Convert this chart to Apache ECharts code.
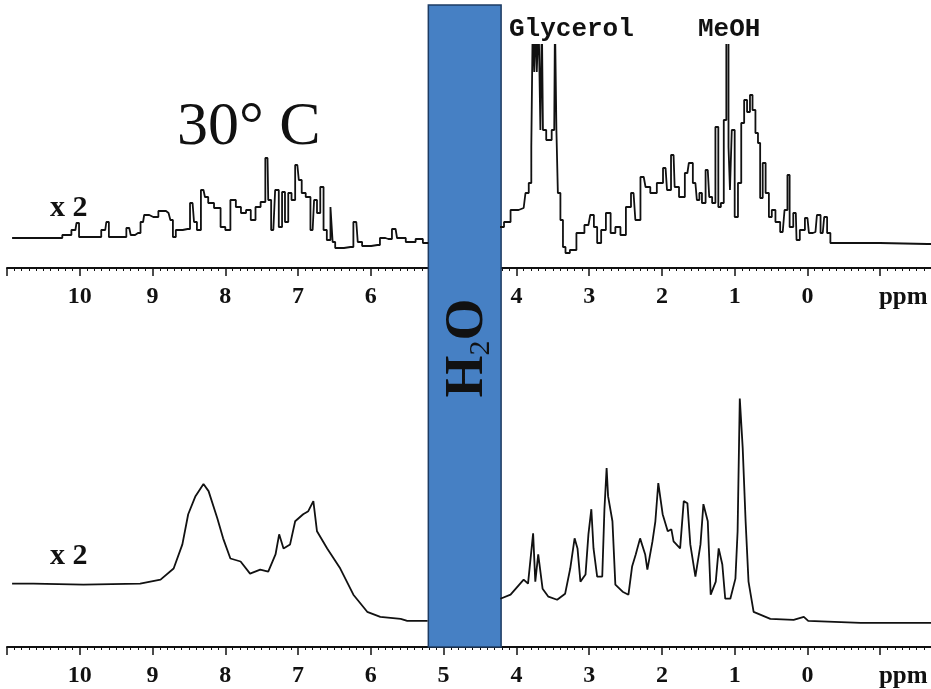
<!DOCTYPE html>
<html>
<head>
<meta charset="utf-8">
<script src="https://cdn.jsdelivr.net/npm/echarts@6/dist/echarts.min.js"></script>
<style>
  html, body { margin: 0; padding: 0; background: #fff; }
  #main { width: 931px; height: 689px; }
</style>
</head>
<body>
<div id="main"></div>
<script>
// axis ticks (ppm)
var axisMin = -2, axisMax = 11;
// water band (ppm)
var waterFrom = 5.21, waterTo = 4.21;

// 30 C spectrum: chemical shift (ppm) and intensity (null = suppressed water region)
var topPpm = [10.93, 10.31, 10.17, 10.06, 10.03, 9.99, 9.76, 9.65, 9.62, 9.58, 9.40, 9.32, 9.28, 9.20, 9.13, 9.10, 8.99, 8.85, 8.78, 8.73,
  8.71, 8.65, 8.52, 8.45, 8.41, 8.37, 8.30, 8.26, 8.21, 8.10, 8.03, 7.97, 7.89, 7.82, 7.75, 7.68, 7.62, 7.55, 7.48, 7.42,
  7.40, 7.34, 7.29, 7.24, 7.20, 7.16, 7.11, 7.07, 7.01, 6.97, 6.93, 6.86, 6.80, 6.76, 6.72, 6.67, 6.63, 6.58, 6.53, 6.52,
  6.46, 6.28, 6.20, 6.16, 6.08, 5.91, 5.84, 5.76, 5.66, 5.62, 5.42, 5.35, 5.22, 5.20, 4.23,
  4.22, 4.12, 4.04, 3.90, 3.85, 3.81, 3.78, 3.77, 3.74, 3.73, 3.71, 3.68, 3.66, 3.64, 3.63, 3.55, 3.48, 3.46, 3.44, 3.42,
  3.37, 3.35, 3.30, 3.23, 3.12, 3.01, 2.96, 2.91, 2.87, 2.80, 2.74, 2.67, 2.61, 2.53, 2.46, 2.39, 2.34, 2.25, 2.20, 2.12,
  2.02, 1.95, 1.91, 1.84, 1.81, 1.72, 1.65, 1.61, 1.54, 1.50, 1.47, 1.43, 1.37, 1.33, 1.29, 1.24, 1.21, 1.17, 1.13, 1.10,
  1.07, 1.06, 1.02, 0.98, 0.93, 0.89, 0.85, 0.81, 0.77, 0.74, 0.69, 0.67, 0.63, 0.60, 0.55, 0.51, 0.47, 0.41, 0.34, 0.29,
  0.26, 0.23, 0.16, 0.14, 0.07, 0.00, -0.04, -0.11, -0.15, -0.21, -0.25, -0.29, -0.34, -1.65, -2.00];
var topVal = [30, 30, 33, 38, 45, 31, 31, 38, 46, 31, 31, 40, 33, 35, 46, 53, 51, 57, 55, 48,
  31, 38, 39, 65, 46, 38, 78, 71, 65, 60, 41, 38, 68, 61, 55, 58, 48, 61, 66, 110,
  68, 38, 78, 41, 76, 46, 75, 68, 103, 88, 75, 71, 38, 68, 55, 81, 38, 28, 61, 26,
  20, 21, 46, 26, 22, 23, 30, 29, 39, 30, 26, 29, 25, null, null,
  41, 46, 58, 60, 75, 85, 121, 250, 196, 250, 196, 250, 138, 250, 138, 128, 138, 250, 138, 75,
  48, 21, 15, 18, 35, 43, 53, 41, 25, 38, 55, 35, 41, 33, 61, 75, 48, 91, 81, 75,
  85, 100, 78, 113, 81, 71, 95, 105, 85, 68, 75, 65, 98, 71, 65, 141, 61, 65, 148, 250,
  121, 78, 138, 51, 85, 145, 168, 156, 173, 158, 135, 125, 70, 105, 75, 51, 58, 46, 36, 58,
  93, 41, 55, 28, 38, 50, 35, 36, 53, 35, 51, 35, 25, 24, 24];

// second spectrum
var botPpm = [10.93, 10.64, 9.95, 9.17, 8.89, 8.71, 8.59, 8.51, 8.41, 8.30, 8.23, 8.11, 8.03, 7.93, 7.79, 7.66, 7.52, 7.41, 7.31, 7.26,
  7.20, 7.11, 7.04, 6.93, 6.86, 6.79, 6.74, 6.60, 6.42, 6.24, 6.05, 5.87, 5.59, 5.50, 5.22, 4.70,
  4.22, 4.08, 3.90, 3.84, 3.77, 3.74, 3.70, 3.64, 3.56, 3.44, 3.33, 3.26, 3.20, 3.16, 3.12, 3.05, 3.01, 2.97, 2.94, 2.89,
  2.82, 2.79, 2.76, 2.74, 2.68, 2.64, 2.54, 2.46, 2.41, 2.36, 2.30, 2.23, 2.20, 2.13, 2.09, 2.05, 1.99, 1.92, 1.87, 1.84,
  1.75, 1.70, 1.65, 1.61, 1.54, 1.47, 1.43, 1.37, 1.33, 1.26, 1.22, 1.17, 1.13, 1.06, 0.99, 0.96, 0.93, 0.89, 0.85, 0.81,
  0.74, 0.51, 0.19, 0.05, -0.01, -0.73, -1.65, -2.00];
var botVal = [63, 63, 62, 63, 67, 78, 102, 132, 150, 162, 155, 128, 108, 88, 85, 73, 77, 75, 92, 112,
  98, 102, 125, 132, 135, 145, 115, 98, 78, 52, 35, 30, 28, 26, 26, null,
  48, 52, 67, 63, 113, 65, 92, 58, 50, 47, 53, 78, 108, 98, 65, 72, 112, 137, 98, 70,
  70, 137, 178, 150, 125, 62, 55, 52, 80, 92, 108, 92, 77, 105, 125, 163, 132, 115, 117, 105,
  98, 145, 143, 102, 70, 102, 142, 125, 52, 65, 98, 82, 48, 48, 68, 115, 247, 198, 125, 65,
  35, 28, 27, 30, 26, 24, 24, 24];

function pairs(xs, ys) {
  var out = [];
  for (var i = 0; i < xs.length; i++) out.push([xs[i], ys[i] === null ? '-' : ys[i]]);
  return out;
}

var labelFont = '"Liberation Serif", "DejaVu Serif", serif';

function ppmAxis(grid) {
  return {
    type: 'value', gridIndex: grid, inverse: true,
    min: axisMin, max: axisMax, interval: 1,
    axisLine: { lineStyle: { color: '#111', width: 2 } },
    axisTick: { length: 8, lineStyle: { color: '#111', width: 1.5 } },
    minorTick: { show: true, splitNumber: 10, length: 3, lineStyle: { color: '#111', width: 1 } },
    splitLine: { show: false },
    minorSplitLine: { show: false },
    axisLabel: {
      margin: 17, color: '#111', fontFamily: labelFont, fontWeight: 'bold', fontSize: 24,
      formatter: function (v) {
        if (v === axisMax || v === axisMin) return '';
        if (v === -1) return '{p|ppm}';
        return String(v);
      },
      rich: { p: { fontFamily: labelFont, fontWeight: 'bold', fontSize: 25, color: '#111', padding: [0, 0, 0, 46] } }
    }
  };
}

var chart = echarts.init(document.getElementById('main'));
var option = {
  animation: false,
  backgroundColor: '#fff',
  grid: [
    { left: 7, width: 946, top: 45, bottom: 421, outerBoundsMode: 'none' },
    { left: 7, width: 946, top: 300, bottom: 42, outerBoundsMode: 'none' },
    { left: 7, width: 946, top: 5, bottom: 42, outerBoundsMode: 'none' }
  ],
  xAxis: [
    ppmAxis(0),
    ppmAxis(1),
    { type: 'value', gridIndex: 2, inverse: true, min: axisMin, max: axisMax, show: false }
  ],
  yAxis: [
    { type: 'value', gridIndex: 0, min: 0, max: 223, show: false },
    { type: 'value', gridIndex: 1, min: 0, max: 345, show: false },
    { type: 'value', gridIndex: 2, min: 0, max: 1, show: false }
  ],
  series: [
    {
      type: 'line', xAxisIndex: 0, yAxisIndex: 0, data: pairs(topPpm, topVal),
      step: 'middle', connectNulls: false, showSymbol: false, clip: true,
      lineStyle: { color: '#111', width: 1.8 }
    },
    {
      type: 'line', xAxisIndex: 1, yAxisIndex: 1, data: pairs(botPpm, botVal),
      connectNulls: false, showSymbol: false, clip: true,
      lineStyle: { color: '#111', width: 1.8 }
    },
    {
      type: 'line', xAxisIndex: 2, yAxisIndex: 2, data: [], z: 10,
      markArea: {
        silent: true,
        itemStyle: { color: '#4680c4', borderColor: '#1d3b63', borderWidth: 1.5, opacity: 1 },
        data: [[{ xAxis: waterFrom }, { xAxis: waterTo }]]
      }
    }
  ],
  graphic: [
    { type: 'text', z: 100, x: 177, y: 159, style: { text: '30\u00b0 C', font: '62px "Liberation Serif"', fill: '#111', textVerticalAlign: 'bottom' } },
    { type: 'text', z: 100, x: 50, y: 223, style: { text: 'x 2', font: 'bold 30px "Liberation Serif"', fill: '#111', textVerticalAlign: 'bottom' } },
    { type: 'text', z: 100, x: 50, y: 571, style: { text: 'x 2', font: 'bold 30px "Liberation Serif"', fill: '#111', textVerticalAlign: 'bottom' } },
    { type: 'text', z: 100, x: 509, y: 42, style: { text: 'Glycerol', font: 'bold 26px "Liberation Mono"', fill: '#111', textVerticalAlign: 'bottom' } },
    { type: 'text', z: 100, x: 698, y: 42, style: { text: 'MeOH', font: 'bold 26px "Liberation Mono"', fill: '#111', textVerticalAlign: 'bottom' } },
    {
      type: 'text', z: 100, x: 468, y: 348, rotation: Math.PI / 2,
      style: {
        text: '{a|H}{b|2}{a|O}', align: 'center', verticalAlign: 'middle',
        rich: {
          a: { font: 'bold 54px "Liberation Serif"', fill: '#111' },
          b: { font: '30px "Liberation Serif"', fill: '#111', padding: [26, 0, 0, 0] }
        }
      }
    }
  ]
};
chart.setOption(option);
</script>
</body>
</html>
